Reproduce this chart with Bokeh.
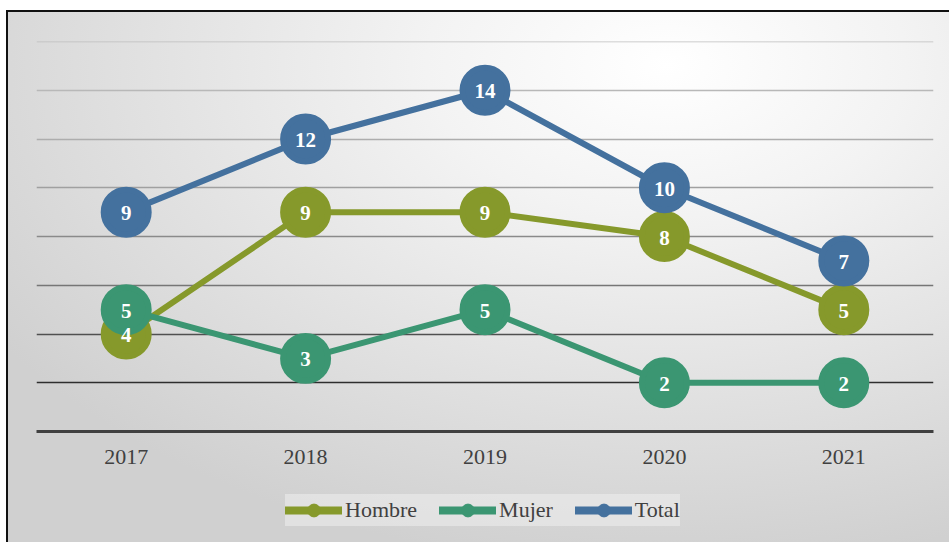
from bokeh.plotting import figure
from bokeh.layouts import column
from bokeh.models import FactorRange, Range1d, Legend, LegendItem
from bokeh.core.properties import value
from bokeh.embed import file_html
from bokeh.resources import INLINE

years = ["2017", "2018", "2019", "2020", "2021"]
hombre = [4, 9, 9, 8, 5]
mujer = [5, 3, 5, 2, 2]
total = [9, 12, 14, 10, 7]
series_names = ["Hombre", "Mujer", "Total"]
series_colors = ["#86992b", "#3b9672", "#44719e"]
grid_ticks = [2, 4, 6, 8, 10, 12, 14, 16]
grid_colors = ["#2e2e2e", "#505050", "#767676", "#8a8a8a", "#a0a0a0", "#adadad", "#b8b8b8", "#bdbdbd"]

W = 941
p = figure(
    x_range=FactorRange(*years, range_padding=0),
    y_range=Range1d(0, 16),
    width=W, height=464,
    output_backend="svg", toolbar_location=None,
    min_border_left=28, min_border_right=16, min_border_top=29, min_border_bottom=45,
    border_fill_color=None, background_fill_color=None, outline_line_color=None,
)

p.yaxis.visible = False
p.xgrid.visible = False
p.ygrid.visible = False

p.hspan(y=grid_ticks, line_color=grid_colors, line_width=1.6)

xa = p.xaxis[0]
xa.axis_line_width = 3
xa.axis_line_color = "#404040"
xa.major_tick_line_color = None
xa.minor_tick_line_color = None
xa.major_label_text_font = "Liberation Serif"
xa.major_label_text_font_size = "22px"
xa.major_label_text_color = "#404040"
xa.major_label_standoff = 12

series = list(zip(series_names, [hombre, mujer, total], series_colors))
for name, vals, col in series:
    p.line(x=years, y=vals, line_width=6, line_color=col, line_join="round")
    p.scatter(x=years, y=vals, size=45, fill_color=col, line_color=col, line_width=6)

for vals in [hombre, mujer, total]:
    p.text(x=years, y=vals, text=[str(v) for v in vals],
           text_align="center", text_baseline="middle", y_offset=1,
           text_color="white", text_font=value("Liberation Serif"),
           text_font_style="bold", text_font_size="21px")

# legend strip below the chart
p2 = figure(
    x_range=FactorRange(*years, range_padding=0),
    y_range=Range1d(0, 16),
    width=W, height=66,
    output_backend="svg", toolbar_location=None,
    min_border=0,
    border_fill_color=None, background_fill_color=None, outline_line_color=None,
)
p2.axis.visible = False
p2.grid.visible = False
items = []
for name, vals, col in series:
    ln = p2.line(x=years, y=vals, line_width=8, line_color=col, line_cap="round", visible=False)
    sc = p2.scatter(x=years, y=vals, size=45, fill_color=col, line_color=col, visible=False)
    items.append(LegendItem(label=name, renderers=[ln, sc]))

legend = Legend(items=items, orientation="horizontal", location=(249, 16),
                glyph_width=57, glyph_height=32, label_standoff=3, spacing=22,
                padding=6, margin=0,
                label_text_font="Liberation Serif", label_text_font_size="22px",
                label_text_color="#404040",
                background_fill_color="#f2f2f2", background_fill_alpha=0.5,
                border_line_color=None)
p2.add_layout(legend, "center")

layout = column(p, p2, spacing=0)
layout.styles = {
    "background": "radial-gradient(ellipse 85% 95% at 70% 10%, #ffffff 0%, #f3f3f3 30%, #d0d0d0 100%)",
    "border-left": "2px solid #111111",
    "border-top": "2px solid #111111",
    "transform": "translate(6px, 10px)",
}

open("out.html", "w").write(file_html(layout, INLINE))
